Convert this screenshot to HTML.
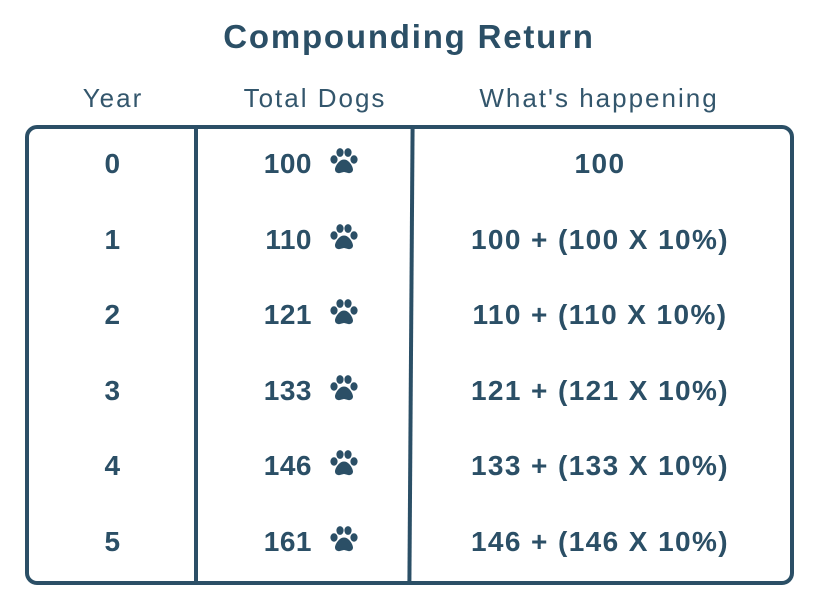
<!DOCTYPE html>
<html><head><meta charset="utf-8"><style>
body{margin:0;width:818px;height:595px;background:#fff;font-family:"Liberation Sans",sans-serif;color:#2b4f66;position:relative;overflow:hidden}
.a{position:absolute;white-space:nowrap}
.t{left:0;width:818px;text-align:center;top:18px;font-size:33px;font-weight:bold;letter-spacing:1.8px}
.h{top:83px;font-size:26px;transform:translateX(-50%);color:#33566c;letter-spacing:2px}
.box{position:absolute;left:25px;top:125px;width:761px;height:452px;border:4px solid #2b4f66;border-radius:12px}
.v{position:absolute;top:127px;width:4px;height:454px;background:#2b4f66}
.c{font-size:28px;font-weight:bold;transform:translate(-50%,-50%);letter-spacing:1.4px}
.n{font-size:28px;font-weight:bold;transform:translateY(-50%);text-align:right;width:80px;letter-spacing:0.5px}
.p{transform:translate(-50%,-50%)}
</style></head><body>
<div class="a t">Compounding Return</div>
<div class="a h" style="left:113px">Year</div>
<div class="a h" style="left:315px">Total Dogs</div>
<div class="a h" style="left:599px">What's happening</div>
<div class="box"></div>
<div class="v" style="left:194px"></div>
<div class="v" style="left:409px;transform:skewX(-0.4deg)"></div>
<div id="rows"></div>
<script>
const years=["0","1","2","3","4","5"];
const dogs=["100","110","121","133","146","161"];
const happening=["100","100 + (100 X 10%)","110 + (110 X 10%)","121 + (121 X 10%)","133 + (133 X 10%)","146 + (146 X 10%)"];
const rows=document.getElementById('rows');
const paw='<svg width="32" height="28" viewBox="0 0 32 28"><ellipse cx="6" cy="12" rx="3.6" ry="4.2" fill="#2b4f66"/><ellipse cx="12" cy="5" rx="3.6" ry="4.4" fill="#2b4f66"/><ellipse cx="20" cy="5" rx="3.6" ry="4.4" fill="#2b4f66"/><ellipse cx="26" cy="12" rx="3.6" ry="4.2" fill="#2b4f66"/><path d="M16 12c-5 0-9 7-9 10s3 4 5 3.5 3-1 4-1 2 .5 4 1 5-.5 5-3.5-4-10-9-10z" fill="#2b4f66"/></svg>';
years.forEach((y,i)=>{
  const cy=164+i*75.6;
  let e=document.createElement('div');e.className='a c';e.style.left='113px';e.style.top=cy+'px';e.textContent=y;
  
  
  rows.appendChild(e);
  e=document.createElement('div');e.className='a n';e.style.left='232px';e.style.top=cy+'px';e.textContent=dogs[i];
  
  
  rows.appendChild(e);
  e=document.createElement('div');e.className='a p';e.style.left='344px';e.style.top=cy+'px';e.innerHTML=paw;
  
  
  rows.appendChild(e);
  e=document.createElement('div');e.className='a c';e.style.left='600px';e.style.top=cy+'px';e.textContent=happening[i];
  
  
  rows.appendChild(e);
});
</script>
</body></html>
